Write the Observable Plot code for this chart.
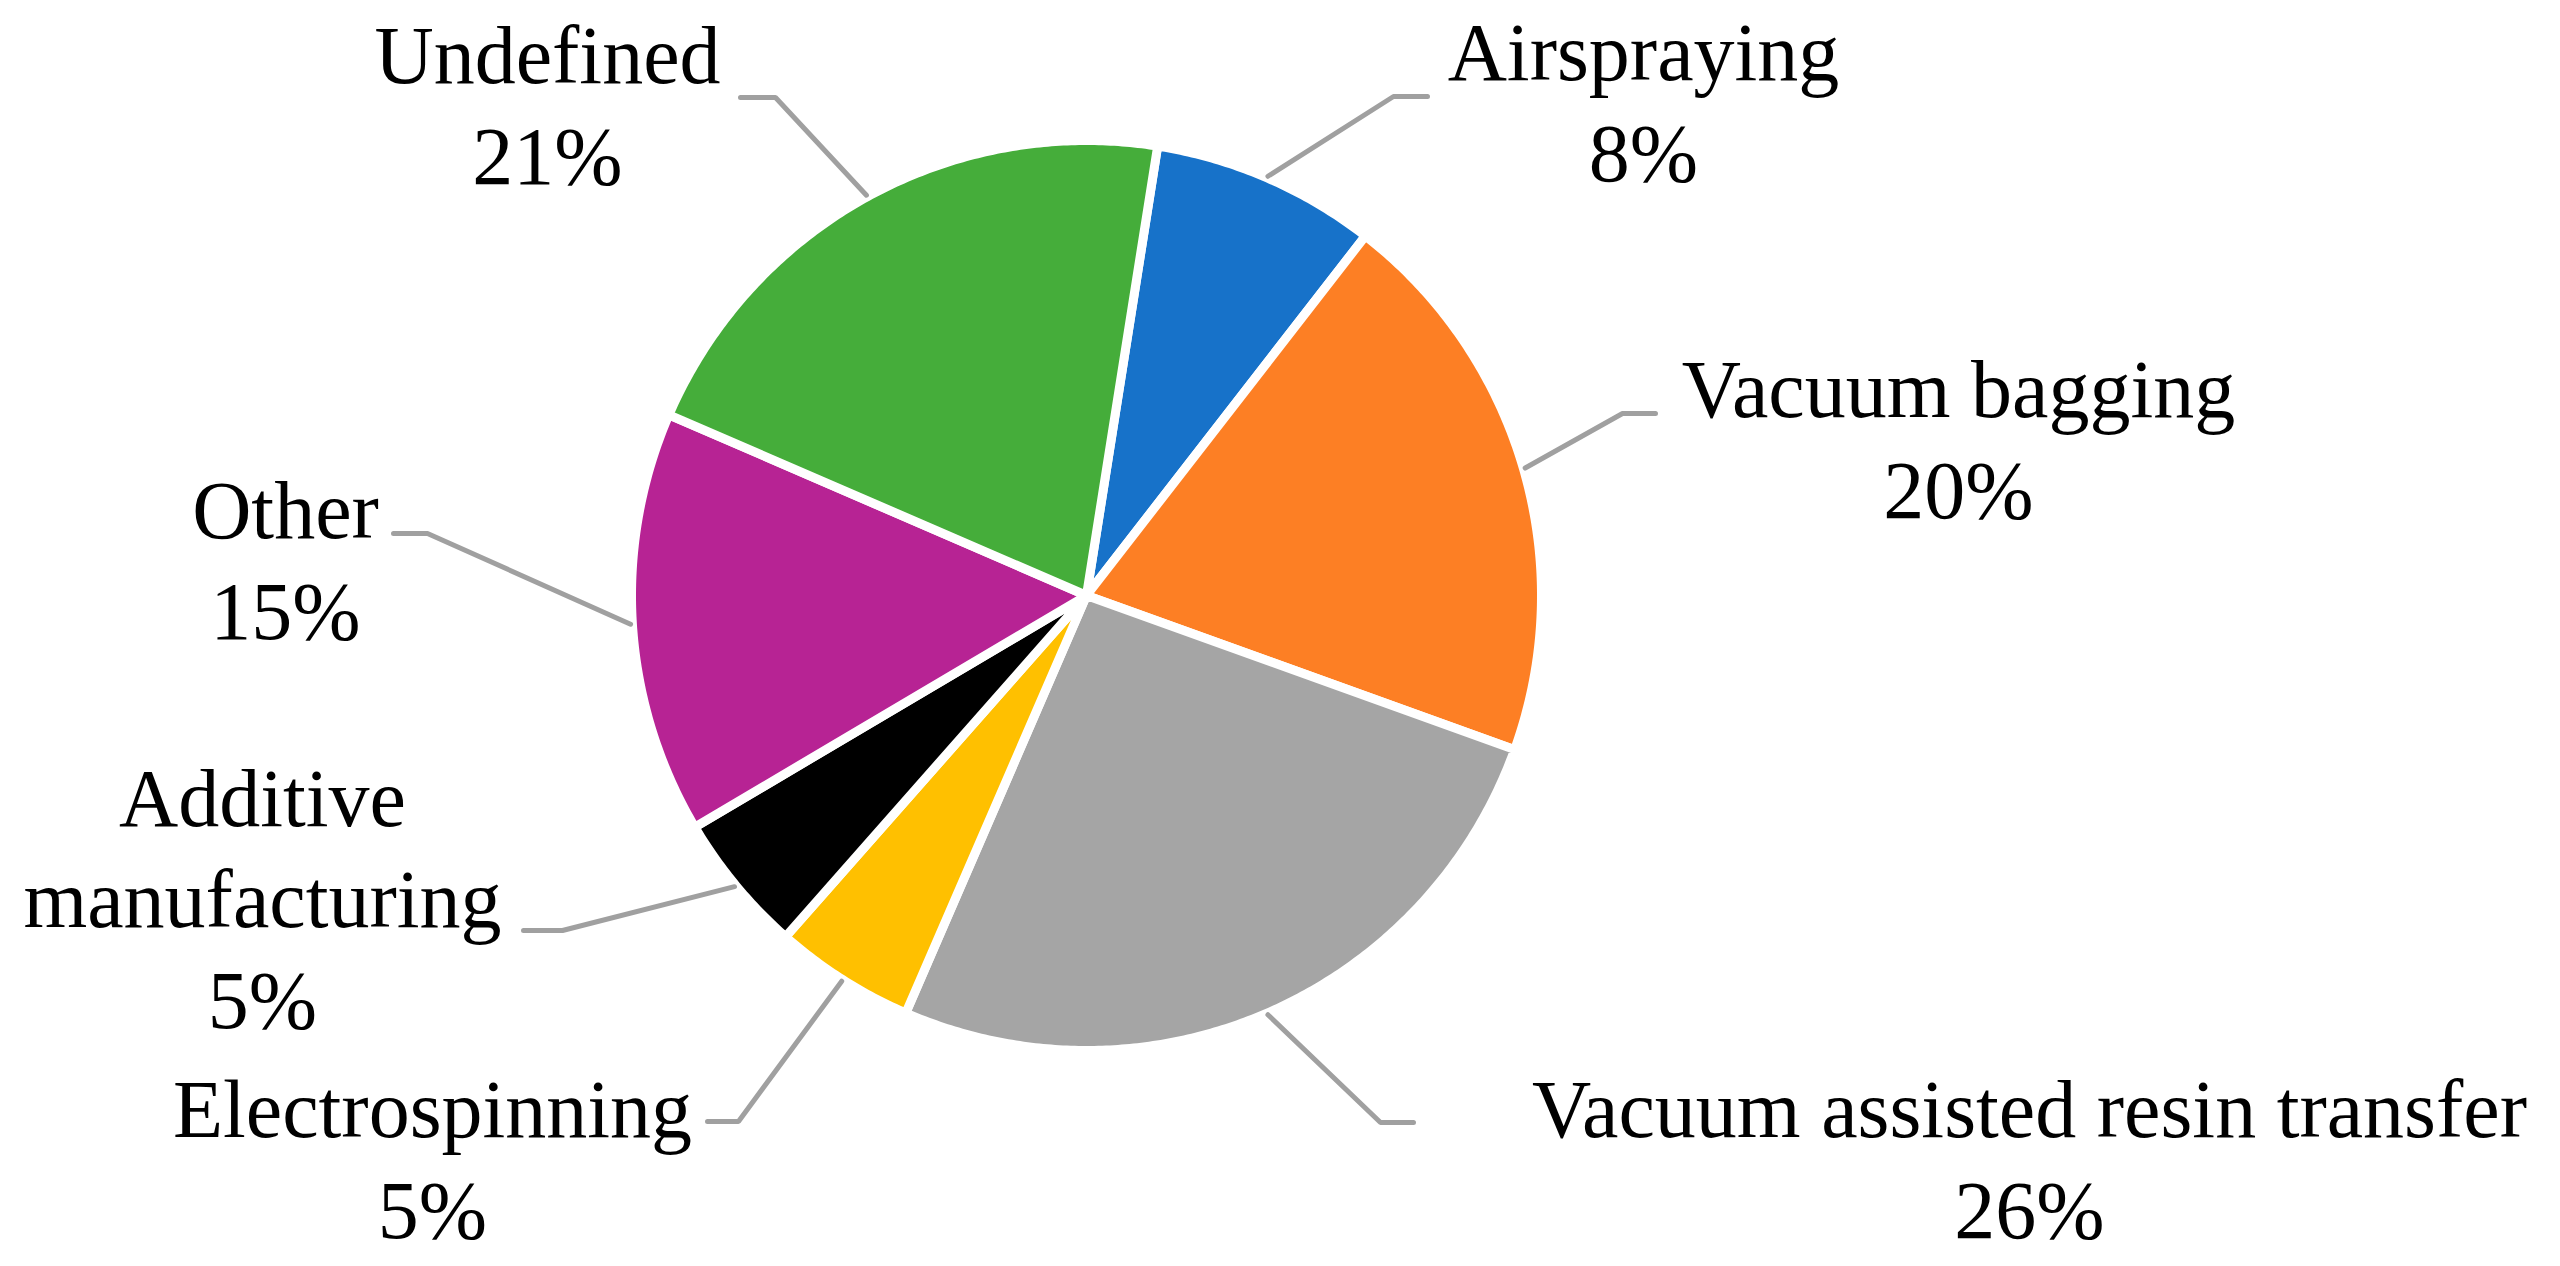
<!DOCTYPE html>
<html><head><meta charset="utf-8">
<script src="https://cdn.jsdelivr.net/npm/d3@7"></script>
<script src="https://cdn.jsdelivr.net/npm/@observablehq/plot@0.6"></script>
<style>html,body{margin:0;padding:0;background:#fff;overflow:hidden}</style>
</head><body><div id="chart"></div>
<script>
// ---- data ----
const categories = ["Airspraying", "Vacuum bagging", "Vacuum assisted resin transfer", "Electrospinning", "Additive manufacturing", "Other", "Undefined"];
const shares = [8, 20, 26, 5, 5, 15, 21];
const percentLabels = ["8%", "20%", "26%", "5%", "5%", "15%", "21%"];

// ---- style ----
const sliceColors = ["#1772C9", "#FD7F24", "#A5A5A5", "#FFC000", "#000000", "#B72394", "#45AD3A"];
const leaderColor = "#A0A0A0";
const fontFamily = "'Liberation Serif', 'Times New Roman', serif";

// ---- layout ----
const W = 2560, H = 1266;
const CX = 1086, CY = 595, R = 455;
const START_DEG = 9;
const labelLayout = [
  {elbow: [1393, 96], end: [1427, 96], tx: 1643, ty: 180},
  {elbow: [1622, 413], end: [1655, 413], tx: 1958, ty: 517},
  {elbow: [1380, 1122], end: [1413, 1122], tx: 2029, ty: 1237},
  {elbow: [738, 1121], end: [707, 1121], tx: 432, ty: 1237},
  {elbow: [562, 930], end: [523, 930], tx: 262, ty: 1027, wrap: true},
  {elbow: [427, 533], end: [393, 533], tx: 285, ty: 638},
  {elbow: [775, 97], end: [740, 97], tx: 547, ty: 183}
];

// ---- build ----
const rows = categories.map((name, i) => ({name, share: shares[i], pct: percentLabels[i], lay: labelLayout[i]}));
const a0 = START_DEG * Math.PI / 180;
const arcs = d3.pie().sort(null).value(d => d.share).startAngle(a0).endAngle(a0 + 2 * Math.PI)(rows);

const px = (a, r) => CX + r * Math.sin(a);
const py = (a, r) => CY - r * Math.cos(a);

const slicePts = [];
for (const arc of arcs) {
  const n = Math.max(4, Math.ceil((arc.endAngle - arc.startAngle) / (Math.PI / 360)));
  slicePts.push({name: arc.data.name, x: CX, y: CY});
  for (let k = 0; k <= n; k++) {
    const a = arc.startAngle + (arc.endAngle - arc.startAngle) * k / n;
    slicePts.push({name: arc.data.name, x: px(a, R), y: py(a, R)});
  }
  slicePts.push({name: arc.data.name, x: CX, y: CY});
}

const leaderPts = [];
const labels = [];
for (const arc of arcs) {
  const d = arc.data, mid = (arc.startAngle + arc.endAngle) / 2;
  leaderPts.push({name: d.name, x: px(mid, R * 1.004), y: py(mid, R * 1.004)});
  leaderPts.push({name: d.name, x: d.lay.elbow[0], y: d.lay.elbow[1]});
  leaderPts.push({name: d.name, x: d.lay.end[0], y: d.lay.end[1]});
  const nm = d.lay.wrap ? d.name.replace(" ", "\n") : d.name;
  labels.push({text: nm + "\n" + d.pct, x: d.lay.tx, y: d.lay.ty});
}

const chart = Plot.plot({
  width: W, height: H,
  margin: 0,
  style: {background: "#fff", overflow: "visible"},
  x: {domain: [0, W], range: [0, W], axis: null},
  y: {domain: [0, H], range: [0, H], axis: null},
  color: {domain: categories, range: sliceColors},
  marks: [
    Plot.line(slicePts, {x: "x", y: "y", z: "name", fill: "name", stroke: "#fff", strokeWidth: 9, strokeLinejoin: "round", curve: "linear"}),
    Plot.line(leaderPts, {x: "x", y: "y", z: "name", stroke: leaderColor, strokeWidth: 5, strokeLinejoin: "miter"}),
    Plot.text(labels, {x: "x", y: "y", text: "text", textAnchor: "middle", lineAnchor: "bottom", lineHeight: 1.23, fontSize: 82, fontFamily, fill: "#000"})
  ]
});
document.getElementById("chart").appendChild(chart);
</script>
</body></html>
